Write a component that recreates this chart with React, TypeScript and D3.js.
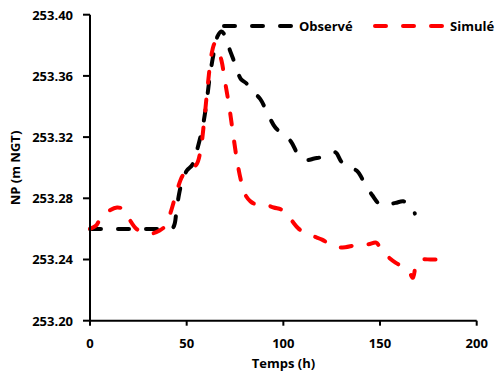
import React from "react";
import * as d3 from "d3";

const obsHours = [0, 10, 20, 30, 40, 43, 45, 47, 50, 53, 55, 58, 60, 62, 64, 66, 68, 70, 72, 75, 78, 81, 84, 88, 92, 96, 100, 104, 108, 112, 116, 120, 124, 127, 130, 134, 138, 142, 146, 150, 154, 158, 162, 166, 168];
const obsLevels = [253.26, 253.26, 253.26, 253.26, 253.26, 253.261, 253.275, 253.288, 253.298, 253.302, 253.31, 253.325, 253.34, 253.36, 253.375, 253.386, 253.389, 253.386, 253.378, 253.368, 253.358, 253.355, 253.35, 253.345, 253.335, 253.326, 253.322, 253.317, 253.308, 253.305, 253.306, 253.307, 253.309, 253.31, 253.304, 253.3, 253.298, 253.29, 253.282, 253.276, 253.276, 253.277, 253.278, 253.276, 253.27];

const simHours = [0, 3, 6, 10, 14, 17, 20, 24, 28, 32, 36, 39, 42, 45, 48, 52, 55, 57, 59, 61, 63, 64.5, 66, 68, 70, 72, 74, 76, 78, 80, 83, 86, 90, 95, 100, 104, 108, 112, 116, 120, 124, 128, 132, 136, 140, 144, 148, 150, 154, 158, 162, 165, 167, 169, 172, 176, 180];
const simLevels = [253.26, 253.262, 253.268, 253.272, 253.274, 253.273, 253.267, 253.26, 253.258, 253.257, 253.259, 253.262, 253.272, 253.285, 253.295, 253.3, 253.302, 253.31, 253.33, 253.355, 253.375, 253.381, 253.378, 253.37, 253.355, 253.34, 253.322, 253.305, 253.292, 253.283, 253.278, 253.276, 253.276, 253.274, 253.272, 253.266, 253.26, 253.257, 253.255, 253.253, 253.25, 253.248, 253.248, 253.249, 253.25, 253.25, 253.251, 253.248, 253.242, 253.238, 253.235, 253.232, 253.228, 253.238, 253.24, 253.24, 253.24];

const xTicks = [0, 50, 100, 150, 200];
const yTicks = [253.2, 253.24, 253.28, 253.32, 253.36, 253.4];
const seriesNames = ["Observé", "Simulé"];

const W = 497;
const H = 381;
const FONT = "'Open Sans', sans-serif";

export default function App() {
  const x = d3.scaleLinear().domain([0, 200]).range([90, 476.7]);
  const y = d3.scaleLinear().domain([253.2, 253.4]).range([320.7, 14.7]);

  const line = d3
    .line<[number, number]>()
    .x((d) => x(d[0]))
    .y((d) => y(d[1]))
    .curve(d3.curveCatmullRom.alpha(0.5));

  const obs: [number, number][] = obsHours.map((h, i) => [h, obsLevels[i]]);
  const sim: [number, number][] = simHours.map((h, i) => [h, simLevels[i]]);

  const dash = "11,17";

  return (
    <div style={{ position: "absolute", left: 0, top: 0 }}>
      <svg width={W} height={H} style={{ display: "block" }}>
        <rect width={W} height={H} fill="#fff" />
        {/* data lines */}
        <path d={line(obs) || ""} fill="none" stroke="#000" strokeWidth={4} strokeDasharray={dash} strokeLinecap="round" />
        <path d={line(sim) || ""} fill="none" stroke="#ff0000" strokeWidth={4} strokeDasharray={dash} strokeLinecap="round" />

        {/* axes */}
        <line x1={x(0)} x2={x(0)} y1={y(253.4)} y2={y(253.2)} stroke="#000" strokeWidth={2} />
        <line x1={x(0)} x2={x(200)} y1={y(253.2)} y2={y(253.2)} stroke="#000" strokeWidth={2} />
        {yTicks.map((t) => (
          <g key={"y" + t}>
            <line x1={x(0) - 7} x2={x(0)} y1={y(t)} y2={y(t)} stroke="#000" strokeWidth={2} />
            <text x={73} y={y(t) + 4.8} textAnchor="end" fontFamily={FONT} fontWeight="bold" fontSize={13} fill="#000">
              {t.toFixed(2)}
            </text>
          </g>
        ))}
        {xTicks.map((t) => (
          <g key={"x" + t}>
            <line x1={x(t)} x2={x(t)} y1={y(253.2)} y2={y(253.2) + 5} stroke="#000" strokeWidth={2} />
            <text x={x(t)} y={348} textAnchor="middle" fontFamily={FONT} fontWeight="bold" fontSize={13} fill="#000">
              {t}
            </text>
          </g>
        ))}
        <text x={283.5} y={368} textAnchor="middle" fontFamily={FONT} fontWeight="bold" fontSize={13} fill="#000">
          Temps (h)
        </text>
        <text transform="translate(20,168) rotate(-90)" textAnchor="middle" fontFamily={FONT} fontWeight="bold" fontSize={13} fill="#000">
          NP (m NGT)
        </text>

        {/* legend */}
        <line x1={224} x2={292} y1={26} y2={26} stroke="#000" strokeWidth={4} strokeDasharray={dash} strokeLinecap="round" />
        <text x={299} y={30.5} fontFamily={FONT} fontWeight="bold" fontSize={13} fill="#000">
          {seriesNames[0]}
        </text>
        <line x1={375} x2={443} y1={26} y2={26} stroke="#ff0000" strokeWidth={4} strokeDasharray={dash} strokeLinecap="round" />
        <text x={450} y={30.5} fontFamily={FONT} fontWeight="bold" fontSize={13} fill="#000">
          {seriesNames[1]}
        </text>
      </svg>
    </div>
  );
}
